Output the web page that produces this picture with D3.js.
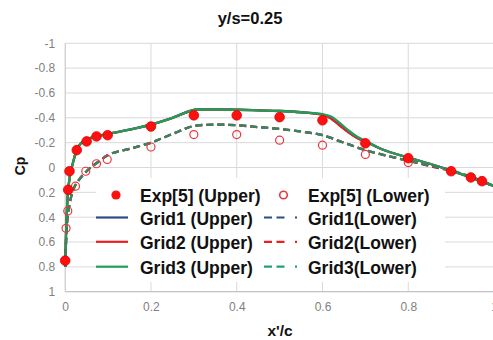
<!DOCTYPE html>
<html>
<head>
<meta charset="utf-8">
<script src="https://cdn.jsdelivr.net/npm/d3@7/dist/d3.min.js"></script>
<style>
  html, body { margin: 0; padding: 0; background: #fff; }
  svg { display: block; font-family: "Liberation Sans", Arial, sans-serif; }
</style>
</head>
<body>
<svg id="chart" width="493" height="340"></svg>
<script>
// Experimental pressure coefficients
const expUpperX  = [0, 0.007, 0.01, 0.027, 0.05, 0.073, 0.099, 0.2, 0.3, 0.4, 0.5, 0.6, 0.7, 0.8, 0.9, 0.946, 0.972];
const expUpperCp = [0.75, 0.18, 0.03, -0.14, -0.21, -0.25, -0.26, -0.33, -0.42, -0.42, -0.405, -0.38, -0.195, -0.075, 0.03, 0.08, 0.11];
const expLowerX  = [0.002, 0.006, 0.024, 0.048, 0.073, 0.098, 0.2, 0.3, 0.4, 0.5, 0.6, 0.7, 0.8];
const expLowerCp = [0.49, 0.35, 0.15, 0.03, -0.03, -0.065, -0.165, -0.265, -0.265, -0.22, -0.18, -0.105, -0.04];

// Computed distributions
const cfdUpperX  = [0, 0.002, 0.007, 0.019, 0.035, 0.054, 0.1, 0.15, 0.2, 0.25, 0.31, 0.35, 0.4, 0.45, 0.5, 0.55, 0.6, 0.62, 0.64, 0.66, 0.68, 0.7, 0.74, 0.8, 0.85, 0.9, 0.95, 1.0];
const grid1UpperCp = [0.8, 0.53, 0.18, -0.05, -0.19, -0.23, -0.27, -0.305, -0.345, -0.4, -0.467, -0.467, -0.465, -0.46, -0.455, -0.445, -0.425, -0.395, -0.34, -0.285, -0.24, -0.21, -0.145, -0.08, -0.03, 0.025, 0.085, 0.15];
const grid2UpperCp = [0.8, 0.53, 0.18, -0.05, -0.19, -0.23, -0.27, -0.305, -0.345, -0.4, -0.467, -0.467, -0.465, -0.46, -0.455, -0.445, -0.425, -0.395, -0.34, -0.285, -0.24, -0.21, -0.145, -0.08, -0.03, 0.025, 0.085, 0.15];
const grid3UpperCp = [0.8, 0.53, 0.18, -0.05, -0.19, -0.23, -0.27, -0.305, -0.345, -0.4, -0.467, -0.467, -0.465, -0.46, -0.455, -0.445, -0.43, -0.41, -0.36, -0.3, -0.25, -0.215, -0.145, -0.08, -0.03, 0.025, 0.085, 0.15];

const cfdLowerX  = [0, 0.002, 0.005, 0.01, 0.02, 0.03, 0.05, 0.075, 0.1, 0.15, 0.2, 0.25, 0.31, 0.35, 0.4, 0.45, 0.5, 0.55, 0.6, 0.65, 0.7, 0.75, 0.8, 0.85, 0.9, 0.95, 1.0];
const grid1LowerCp = [0.8, 0.6, 0.42, 0.3, 0.17, 0.11, 0.03, -0.04, -0.1, -0.15, -0.2, -0.27, -0.34, -0.345, -0.34, -0.325, -0.31, -0.29, -0.26, -0.2, -0.14, -0.095, -0.055, -0.012, 0.028, 0.08, 0.15];
const grid2LowerCp = [0.8, 0.6, 0.42, 0.3, 0.17, 0.11, 0.03, -0.04, -0.1, -0.15, -0.2, -0.27, -0.34, -0.345, -0.34, -0.325, -0.31, -0.29, -0.26, -0.2, -0.14, -0.095, -0.055, -0.012, 0.028, 0.08, 0.15];
const grid3LowerCp = [0.8, 0.6, 0.42, 0.3, 0.17, 0.11, 0.03, -0.04, -0.1, -0.15, -0.2, -0.27, -0.34, -0.345, -0.34, -0.325, -0.31, -0.29, -0.26, -0.2, -0.14, -0.095, -0.055, -0.018, 0.022, 0.08, 0.15];

// Axis ticks
const xTicks = [0, 0.2, 0.4, 0.6, 0.8, 1];
const yTicks = [-1, -0.8, -0.6, -0.4, -0.2, 0, 0.2, 0.4, 0.6, 0.8, 1];

// Legend entries
const legendLeft  = ["Exp[5] (Upper)", "Grid1 (Upper)", "Grid2 (Upper)", "Grid3 (Upper)"];
const legendRight = ["Exp[5] (Lower)", "Grid1(Lower)", "Grid2(Lower)", "Grid3(Lower)"];

const titleText = "y/s=0.25";
const xLabel = "x'/c";
const yLabel = "Cp";

const colNavy = "#2b4f7e", colRed = "#ee1c25", colGreen = "#1f9e5a", colGreenDash = "#2f8a5f", colGreenLeg = "#1fa27c";
const expRed = "#ff1010";

const svg = d3.select("#chart");
const x = d3.scaleLinear().domain([0, 1]).range([65.2, 494]);
const y = d3.scaleLinear().domain([-1, 1]).range([43.3, 291.7]);

// Grid
const grid = svg.append("g");
grid.selectAll("line.h").data(yTicks).join("line")
  .attr("x1", x(0)).attr("x2", x(1)).attr("y1", d => y(d)).attr("y2", d => y(d))
  .attr("stroke", "#d9d9d9").attr("stroke-width", 1);
grid.selectAll("line.v").data(xTicks.slice(1)).join("line")
  .attr("x1", d => x(d)).attr("x2", d => x(d)).attr("y1", y(-1)).attr("y2", y(1))
  .attr("stroke", "#d9d9d9").attr("stroke-width", 1);
grid.append("line").attr("x1", x(0)).attr("x2", x(0)).attr("y1", y(-1)).attr("y2", y(1))
  .attr("stroke", "#bfbfbf").attr("stroke-width", 1);
grid.append("line").attr("x1", x(0)).attr("x2", x(1)).attr("y1", y(1)).attr("y2", y(1))
  .attr("stroke", "#bfbfbf").attr("stroke-width", 1);

// Axes tick labels (plain hyphen for negatives)
const fmt = d => String(d);
const yAxis = d3.axisLeft(y).tickValues(yTicks).tickSize(0).tickPadding(10).tickFormat(fmt);
svg.append("g").attr("transform", `translate(${x(0)},0)`).call(yAxis)
  .call(g => g.select(".domain").remove())
  .selectAll("text").attr("font-size", 12).attr("fill", "#7f7f7f")
  .attr("font-family", "Liberation Sans, Arial, sans-serif");
const xAxis = d3.axisBottom(x).tickValues(xTicks).tickSize(0).tickPadding(11).tickFormat(fmt);
svg.append("g").attr("transform", `translate(0,${y(1)})`).call(xAxis)
  .call(g => g.select(".domain").remove())
  .selectAll("text").attr("font-size", 12).attr("fill", "#7f7f7f")
  .attr("font-family", "Liberation Sans, Arial, sans-serif");

// Curves
const line = d3.line().x(d => x(d[0])).y(d => y(d[1])).curve(d3.curveMonotoneX);
const zip = (xs, ys) => xs.map((v, i) => [v, ys[i]]);
const series = [
  { xs: cfdUpperX, ys: grid1UpperCp, color: colNavy, dash: null },
  { xs: cfdLowerX, ys: grid1LowerCp, color: colNavy, dash: "7,4" },
  { xs: cfdUpperX, ys: grid2UpperCp, color: colRed, dash: null },
  { xs: cfdLowerX, ys: grid2LowerCp, color: colRed, dash: "7,4" },
  { xs: cfdUpperX, ys: grid3UpperCp, color: colGreen, dash: null },
  { xs: cfdLowerX, ys: grid3LowerCp, color: colGreenDash, dash: "7,4" }
];
svg.append("g").selectAll("path").data(series).join("path")
  .attr("d", s => line(zip(s.xs, s.ys)))
  .attr("fill", "none").attr("stroke", s => s.color).attr("stroke-width", 2.3)
  .attr("stroke-dasharray", s => s.dash);

// Experimental markers
svg.append("g").selectAll("circle").data(zip(expLowerX, expLowerCp)).join("circle")
  .attr("cx", d => x(d[0])).attr("cy", d => y(d[1])).attr("r", 4)
  .attr("fill", "none").attr("stroke", "#e8383d").attr("stroke-width", 1.2);
svg.append("g").selectAll("circle").data(zip(expUpperX, expUpperCp)).join("circle")
  .attr("cx", d => x(d[0])).attr("cy", d => y(d[1])).attr("r", 4.8)
  .attr("fill", expRed).attr("stroke", "#e00000").attr("stroke-width", 0.8);

// Legend
const leg = svg.append("g");
leg.append("rect").attr("x", 96).attr("y", 178).attr("width", 349).attr("height", 104).attr("fill", "#fff");
const rowY = [195, 217.5, 241.8, 266.7];
const legFont = "Liberation Sans, Arial, sans-serif";
const leftColors = [null, colNavy, colRed, colGreen];
const rightColors = [null, colNavy, colRed, colGreenLeg];
legendLeft.forEach((t, i) => {
  if (i === 0) {
    leg.append("circle").attr("cx", 116).attr("cy", rowY[i]).attr("r", 4.6).attr("fill", expRed);
  } else {
    leg.append("line").attr("x1", 96).attr("x2", 128).attr("y1", rowY[i]).attr("y2", rowY[i])
      .attr("stroke", leftColors[i]).attr("stroke-width", 2.2);
  }
  leg.append("text").attr("x", 140).attr("y", rowY[i] + 7.3).text(t)
    .attr("font-family", legFont).attr("font-weight", "bold").attr("font-size", 17.5).attr("fill", "#111");
});
legendRight.forEach((t, i) => {
  if (i === 0) {
    leg.append("circle").attr("cx", 283.5).attr("cy", rowY[i]).attr("r", 3.8)
      .attr("fill", "none").attr("stroke", "#e8383d").attr("stroke-width", 1.6);
  } else {
    leg.append("line").attr("x1", 264).attr("x2", 297).attr("y1", rowY[i]).attr("y2", rowY[i])
      .attr("stroke", rightColors[i]).attr("stroke-width", 2.2).attr("stroke-dasharray", "8,4.5,8,10.5,2");
  }
  leg.append("text").attr("x", 308).attr("y", rowY[i] + 7.3).text(t)
    .attr("font-family", legFont).attr("font-weight", "bold").attr("font-size", 17.5).attr("fill", "#111");
});

// Titles
svg.append("text").attr("x", 250).attr("y", 23.5).attr("text-anchor", "middle")
  .attr("font-weight", "bold").attr("font-size", 16.5).attr("fill", "#111").text(titleText);
svg.append("text").attr("transform", "translate(25,166) rotate(-90)").attr("text-anchor", "middle")
  .attr("font-weight", "bold").attr("font-size", 14).attr("fill", "#111").text(yLabel);
svg.append("text").attr("x", 280).attr("y", 335.5).attr("text-anchor", "middle")
  .attr("font-weight", "bold").attr("font-size", 15.5).attr("fill", "#111").text(xLabel);
</script>
</body>
</html>
